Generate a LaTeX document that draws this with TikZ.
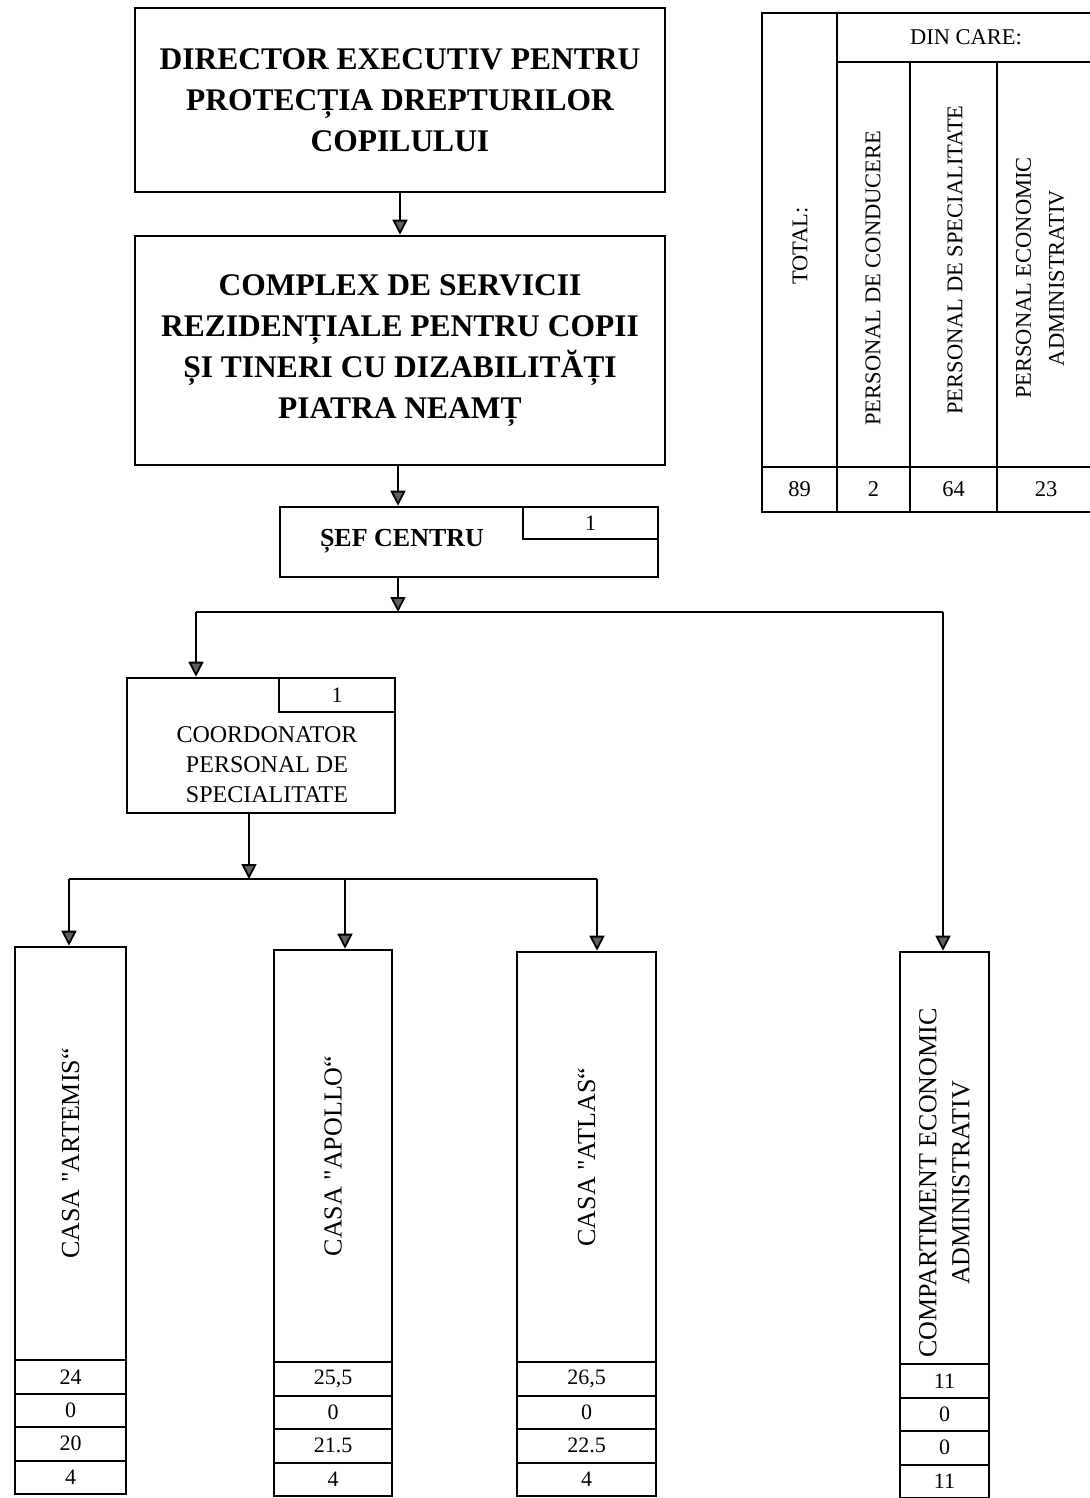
\documentclass[tikz,border=0pt]{standalone}
\usepackage{fontspec}
\setmainfont{Liberation Serif}[Ligatures=TeXOff]
\usetikzlibrary{arrows.meta}
\begin{document}
\begin{tikzpicture}[x=1pt,y=-1pt,
  box/.style={draw, line width=2.6pt, inner sep=0pt, align=center},
  cell/.style={draw, line width=2pt, inner sep=0pt, font=\fontsize{22}{26}\selectfont},
  conn/.style={line width=1.8pt},
  arr/.style={line width=1.8pt, -{Triangle[width=15pt,length=15pt,fill=gray!75!black]}},
  bigtxt/.style={font=\fontsize{31.5}{41}\selectfont\bfseries, align=center},
  midtxt/.style={font=\fontsize{24}{30}\selectfont, align=center},
  vtxt/.style={font=\fontsize{26}{33}\selectfont, align=center, rotate=90},
  ttxt/.style={font=\fontsize{22.5}{33}\selectfont, align=center, rotate=90}
]
\useasboundingbox (0,0) rectangle (1089,1498);

% top boxes
\node[box, minimum width=530, minimum height=184, bigtxt] (dir) at (400,100)
  {DIRECTOR EXECUTIV PENTRU\\PROTECȚIA DREPTURILOR\\COPILULUI};
\node[box, minimum width=530, minimum height=229, bigtxt] (cplx) at (400,350.5)
  {COMPLEX DE SERVICII\\REZIDENȚIALE PENTRU COPII\\ȘI TINERI CU DIZABILITĂȚI\\PIATRA NEAMȚ};

% sef centru
\node[box, minimum width=378, minimum height=70] (sef) at (469,542) {};
\node[font=\fontsize{26}{30}\selectfont\bfseries] (seft) at (402,541) {ȘEF CENTRU};
\node[inner sep=0pt, minimum width=135, minimum height=32, font=\fontsize{22}{26}\selectfont] (sefn) at (590.5,523) {1};
\draw[line width=2pt] (sefn.north west) |- (sefn.south east);

% coordonator
\node[box, minimum width=268, minimum height=135] (coord) at (261,745.5) {};
\node[midtxt] (coordt) at (267,765) {COORDONATOR\\PERSONAL DE\\SPECIALITATE};
\node[inner sep=0pt, minimum width=116, minimum height=34, font=\fontsize{22}{26}\selectfont] (coordn) at (337,695) {1};
\draw[line width=2pt] (coordn.north west) |- (coordn.south east);

% column boxes
\node[box, minimum width=111, minimum height=413] (art) at (70.5,1153.5) {};
\node[vtxt] at (art.center) {CASA "ARTEMIS“};
\node[box, minimum width=118, minimum height=412] (apo) at (333,1156) {};
\node[vtxt] at (apo.center) {CASA "APOLLO“};
\node[box, minimum width=139, minimum height=410] (atl) at (586.5,1157) {};
\node[vtxt] at (atl.center) {CASA "ATLAS“};
\node[box, minimum width=89, minimum height=412] (comp) at (944.5,1158) {};
\node[vtxt] at (944.5,1183) {COMPARTIMENT ECONOMIC\\ADMINISTRATIV};

% cells
\foreach \nm/\cx/\w/\ys/\a/\b/\c/\d in {
  art/70.5/111/1360/24/0/20/4,
  apo/333/118/1362/{25,5}/0/{21.5}/4,
  atl/586.5/139/1362/{26,5}/0/{22.5}/4,
  comp/944.5/89/1364/11/0/0/11}{
  \node[cell, minimum width=\w, minimum height=33.5] (\nm1) at (\cx,\ys+16.75) {\a};
  \node[cell, minimum width=\w, minimum height=33.5] (\nm2) at (\cx,\ys+50.25) {\b};
  \node[cell, minimum width=\w, minimum height=33.5] (\nm3) at (\cx,\ys+83.75) {\c};
  \node[cell, minimum width=\w, minimum height=33.5] (\nm4) at (\cx,\ys+117.25) {\d};
}

% connectors
\draw[arr] (dir.south) -- (cplx.north);
\coordinate (b1) at (398,612);
\coordinate (bl) at (196,612);
\coordinate (br) at (943,612);
\draw[arr] (cplx.south -| b1) -- (sef.north -| b1);
\draw[arr] (sef.south -| b1) -- (b1);
\draw[conn] (bl) -- (br);
\draw[arr] (bl) -- (bl |- coord.north);
\draw[arr] (br) -- (br |- comp.north);

\coordinate (b2) at (249,879);
\coordinate (l2) at (69,879);
\coordinate (m2) at (345,879);
\coordinate (r2) at (597,879);
\draw[arr] (coord.south -| b2) -- (b2);
\draw[conn] (l2) -- (r2);
\draw[arr] (l2) -- (l2 |- art.north);
\draw[arr] (m2) -- (m2 |- apo.north);
\draw[arr] (r2) -- (r2 |- atl.north);

% table
\node[box, minimum width=75, minimum height=454] (ttot) at (799.5,240) {};
\node[box, minimum width=258, minimum height=49, font=\fontsize{22.5}{26}\selectfont] (thead) at (966,37.5) {DIN CARE:};
\node[box, minimum width=73, minimum height=405] (tc1) at (873.5,264.5) {};
\node[box, minimum width=87, minimum height=405] (tc2) at (953.5,264.5) {};
\node[box, minimum width=98, minimum height=405] (tc3) at (1046,264.5) {};
\node[ttxt] at (800,246) {TOTAL:};
\node[ttxt] at (873,278) {PERSONAL DE CONDUCERE};
\node[ttxt] at (955,260) {PERSONAL DE SPECIALITATE};
\node[ttxt] at (1040,278) {PERSONAL ECONOMIC\\ADMINISTRATIV};
\node[box, minimum width=75, minimum height=45, font=\fontsize{22.5}{26}\selectfont] (n0) at (799.5,489.5) {89};
\node[box, minimum width=73, minimum height=45, font=\fontsize{22.5}{26}\selectfont] (n1) at (873.5,489.5) {2};
\node[box, minimum width=87, minimum height=45, font=\fontsize{22.5}{26}\selectfont] (n2) at (953.5,489.5) {64};
\node[box, minimum width=98, minimum height=45, font=\fontsize{22.5}{26}\selectfont] (n3) at (1046,489.5) {23};
\end{tikzpicture}
\end{document}
